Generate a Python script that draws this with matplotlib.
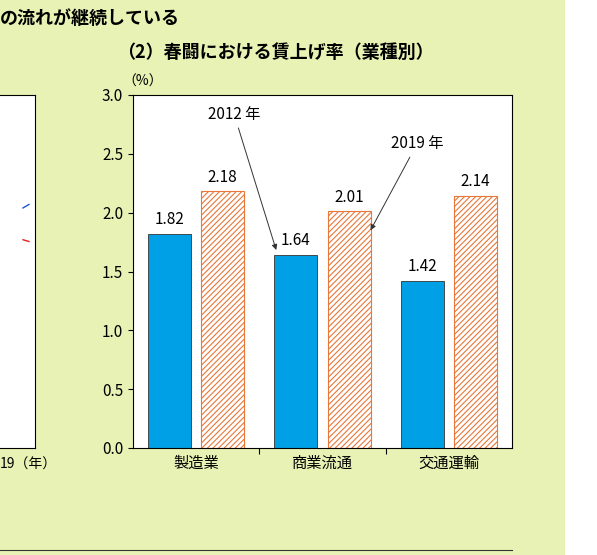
import matplotlib.pyplot as plt
import numpy as np

plt.rcParams['font.family'] = ['Noto Sans CJK JP', 'DejaVu Sans']
plt.rcParams['hatch.linewidth'] = 0.8

categories = ["製造業", "商業流通", "交通運輸"]
rate_2012 = [1.82, 1.64, 1.42]
rate_2019 = [2.18, 2.01, 2.14]

W, H = 597, 555
fig = plt.figure(figsize=(W / 100, H / 100), dpi=100)
fig.patch.set_facecolor("white")
bg = fig.add_axes([0, 0, 565 / W, 1])
bg.set_facecolor("#e9f2b5")
bg.set_xticks([]); bg.set_yticks([])
for s in bg.spines.values():
    s.set_visible(False)
# bottom box line
fig.add_artist(plt.Line2D([0, 512 / W], [1 - 550 / H] * 2, color="#333333", lw=0.8))

def fx(px): return px / W
def fy(py): return 1 - py / H

fig.text(fx(0), fy(18), "の流れが継続している", fontsize=13, fontweight="bold", va="center")
fig.text(fx(275), fy(52), "（2）春闘における賃上げ率（業種別）", fontsize=13, fontweight="bold",
         va="center", ha="center")

# partial left panel
axl = fig.add_axes([fx(-5), fy(448), fx(40), (448 - 95) / H])
axl.set_xlim(0, 1); axl.set_ylim(0, 1)
axl.set_xticks([]); axl.set_yticks([])
axl.plot([0.7, 0.85], [0.68, 0.69], color="#2255cc", lw=1)
axl.plot([0.7, 0.85], [0.59, 0.585], color="#dd2222", lw=1)
fig.text(fx(0), fy(465), "19（年）", fontsize=10, va="center")

ax = fig.add_axes([fx(133), fy(448), (512 - 133) / W, (448 - 95) / H])
x = np.arange(len(categories))
w = 0.34
b1 = ax.bar(x - 0.21, rate_2012, w, color="#00a0e6", edgecolor="#333333", lw=0.6)
b2 = ax.bar(x + 0.21, rate_2019, w, color="white", edgecolor="#e8773a", hatch="//////", lw=0.8)
for rects, vals in ((b1, rate_2012), (b2, rate_2019)):
    for r, v in zip(rects, vals):
        ax.text(r.get_x() + r.get_width() / 2, v + 0.05, f"{v:.2f}", ha="center",
                va="bottom", fontsize=11)
ax.set_xlim(-0.5, 2.5)
ax.set_ylim(0, 3.0)
ax.set_yticks(np.arange(0, 3.01, 0.5))
ax.set_yticklabels([f"{t:.1f}" for t in np.arange(0, 3.01, 0.5)], fontsize=11)
ax.set_xticks([0.5, 1.5])
ax.set_xticklabels([])
ax.tick_params(axis="x", length=4)
for i, c in enumerate(categories):
    ax.text(i, -0.06, c, ha="center", va="top", fontsize=11)
ax.text(-0.42, 3.05, "（%）", ha="center", va="bottom", fontsize=10, transform=ax.transData)

ax.annotate("2012 年", xy=(1 - 0.36, 1.66), xytext=(0.3, 2.8), fontsize=11, ha="center",
            arrowprops=dict(arrowstyle="-|>", color="#333333", lw=0.7, mutation_scale=8))
ax.annotate("2019 年", xy=(1 + 0.37, 1.83), xytext=(1.75, 2.55), fontsize=11, ha="center",
            arrowprops=dict(arrowstyle="-|>", color="#333333", lw=0.7, mutation_scale=8))

fig.savefig("out.png", dpi=100)
